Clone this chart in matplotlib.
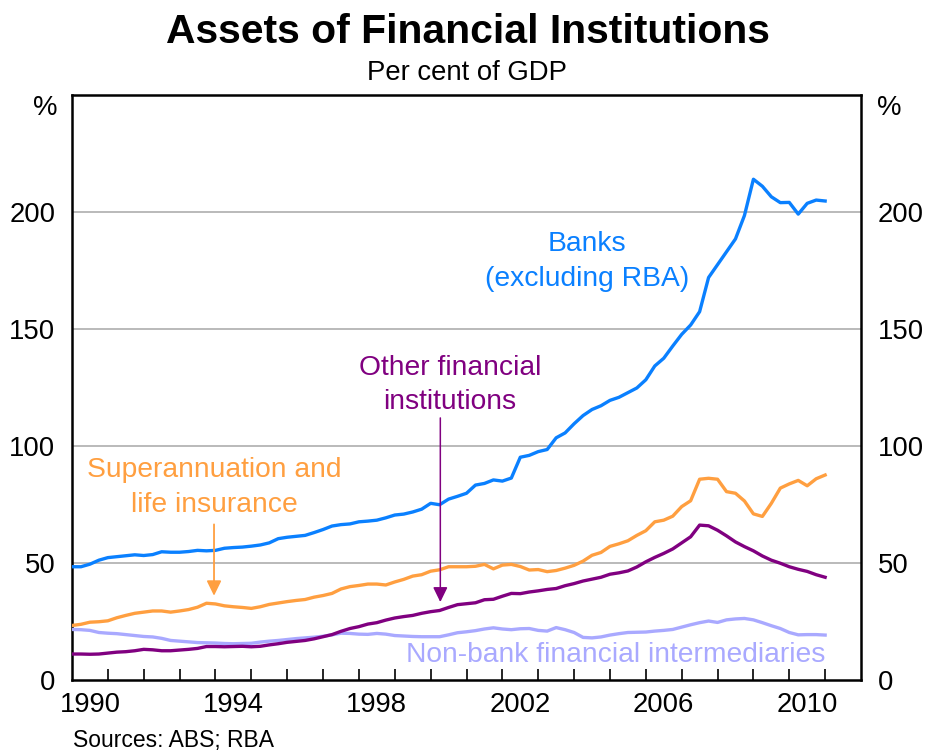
import numpy as np
import matplotlib
matplotlib.use("Agg")
import matplotlib.pyplot as plt

plt.rcParams['font.family'] = ['Liberation Sans', 'DejaVu Sans']

# Quarterly observations, per cent of GDP, starting 1990 Q1
start_year = 1990.0
banks = [48.4, 48.4, 49.5, 51.2, 52.3, 52.7, 53.1, 53.5, 53.2, 53.6,
         54.8, 54.6, 54.6, 54.9, 55.4, 55.2, 55.4, 56.3, 56.6, 56.8,
         57.2, 57.7, 58.6, 60.4, 61.0, 61.4, 61.8, 63.0, 64.3, 65.8,
         66.4, 66.7, 67.6, 67.9, 68.3, 69.3, 70.5, 70.9, 71.8, 73.0,
         75.5, 74.9, 77.3, 78.5, 79.8, 83.3, 84.0, 85.5, 85.0, 86.3,
         95.2, 96.0, 97.6, 98.5, 103.5, 105.6, 109.5, 113.0, 115.6, 117.2,
         119.5, 120.8, 122.8, 124.8, 128.3, 134.2, 137.5, 142.7, 147.7, 151.7,
         157.4, 172.0, 177.5, 183.0, 188.5, 198.5, 214.0, 211.0, 206.5, 204.0,
         204.1, 199.1, 203.7, 205.1, 204.7]
super_life = [23.3, 23.8, 24.7, 24.9, 25.3, 26.6, 27.6, 28.5, 29.0, 29.5,
              29.5, 29.0, 29.5, 30.1, 31.1, 32.8, 32.5, 31.7, 31.3, 31.0,
              30.6, 31.3, 32.3, 32.9, 33.5, 34.0, 34.4, 35.4, 36.1, 37.0,
              38.9, 39.9, 40.4, 41.0, 41.0, 40.6, 41.9, 43.0, 44.4, 45.0,
              46.5, 47.1, 48.4, 48.4, 48.4, 48.6, 49.4, 47.5, 49.1, 49.4,
              48.5, 47.0, 47.2, 46.3, 46.8, 47.8, 49.0, 50.8, 53.3, 54.5,
              57.1, 58.2, 59.5, 61.8, 63.8, 67.6, 68.3, 70.0, 74.1, 76.6,
              85.8, 86.2, 85.8, 80.5, 79.8, 76.5, 71.0, 69.9, 75.5, 82.0,
              83.8, 85.3, 83.0, 86.0, 87.6]
other_fi = [11.1, 11.1, 11.0, 11.1, 11.5, 11.9, 12.1, 12.5, 13.1, 12.9,
            12.5, 12.5, 12.8, 13.1, 13.5, 14.3, 14.3, 14.2, 14.3, 14.4,
            14.2, 14.4, 15.0, 15.5, 16.1, 16.5, 16.9, 17.6, 18.5, 19.4,
            20.8, 22.0, 22.8, 23.9, 24.5, 25.6, 26.5, 27.1, 27.6, 28.5,
            29.2, 29.7, 31.0, 32.2, 32.6, 33.0, 34.3, 34.5, 35.8, 37.0,
            36.9, 37.6, 38.1, 38.7, 39.1, 40.3, 41.2, 42.3, 43.1, 43.9,
            45.2, 45.8, 46.6, 48.3, 50.5, 52.4, 54.1, 56.0, 58.6, 61.2,
            66.2, 65.9, 64.0, 61.6, 59.0, 57.0, 55.2, 53.0, 51.2, 49.9,
            48.4, 47.3, 46.4, 45.0, 43.9]
non_bank = [21.6, 21.5, 21.2, 20.3, 20.0, 19.8, 19.4, 19.0, 18.6, 18.4,
            17.8, 16.9, 16.6, 16.3, 16.0, 15.9, 15.8, 15.6, 15.5, 15.6,
            15.7, 16.2, 16.6, 16.9, 17.3, 17.7, 18.0, 18.3, 18.7, 19.3,
            20.0, 19.9, 19.6, 19.5, 19.9, 19.6, 19.0, 18.8, 18.6, 18.5,
            18.5, 18.5, 19.3, 20.2, 20.6, 21.1, 21.8, 22.3, 21.8, 21.5,
            21.9, 22.0, 21.2, 20.9, 22.4, 21.5, 20.3, 18.2, 18.0, 18.4,
            19.2, 19.8, 20.3, 20.4, 20.5, 20.9, 21.2, 21.6, 22.6, 23.6,
            24.5, 25.2, 24.6, 25.7, 26.1, 26.3, 25.7, 24.5, 23.2, 22.0,
            20.3, 19.3, 19.4, 19.4, 19.2]

year_labels = ['1990', '1994', '1998', '2002', '2006', '2010']
y_ticks = [0, 50, 100, 150, 200]

c_banks = '#0A80FF'
c_super = '#FF9F40'
c_other = '#800080'
c_nonbank = '#A9A9FF'

t = start_year + 0.25 * np.arange(len(banks))

W, H = 927, 753
fig = plt.figure(figsize=(W / 100, H / 100), dpi=100)
ax = fig.add_axes([72 / W, 1 - 680 / H, (861 - 72) / W, (680 - 95) / H])

lw = 2.4
ax.plot(t, non_bank, color=c_nonbank, lw=lw, zorder=3, solid_joinstyle='round')
ax.plot(t, other_fi, color=c_other, lw=lw, zorder=4, solid_joinstyle='round')
ax.plot(t, super_life, color=c_super, lw=lw, zorder=4, solid_joinstyle='round')
ax.plot(t, banks, color=c_banks, lw=lw, zorder=5, solid_joinstyle='round')

ax.set_xlim(1990, 2012)
ax.set_ylim(0, 250)

for v in y_ticks[1:]:
    ax.axhline(v, color='#b4b4b4', lw=1.3, zorder=1)

# x ticks: year boundaries (marks), labels at mid-year
ax.set_xticks(np.arange(1991, 2012), labels=[''] * 21)
ax.tick_params(axis='x', which='major', direction='in', length=8, width=1.2,
               colors='black')
ax.set_xticks([int(l) + 0.5 for l in year_labels], labels=year_labels, minor=True)
ax.tick_params(axis='x', which='minor', length=0, pad=9, labelsize=19.8)

ax.set_yticks(y_ticks, labels=[str(v) for v in y_ticks])
ax.tick_params(axis='y', which='both', length=0, labelsize=19.8, pad=12,
               left=True, right=True, labelleft=True, labelright=True)

for s in ax.spines.values():
    s.set_linewidth(1.8)
    s.set_color('black')

# % labels
fig.text(57 / W, 1 - 108 / H, '%', ha='right', va='center', fontsize=19.8)
fig.text(877 / W, 1 - 108 / H, '%', ha='left', va='center', fontsize=19.8)

# Titles
fig.text(468 / W, 1 - 32 / H, 'Assets of Financial Institutions', ha='center',
         va='center', fontsize=29.4, fontweight='bold')
fig.text(467 / W, 1 - 73 / H, 'Per cent of GDP', ha='center', va='center',
         fontsize=19.8)
fig.text(73 / W, 1 / H, 'Sources: ABS; RBA', ha='left', va='bottom',
         fontsize=16.5)

# Series labels
ls = 1.42
ax.text(2004.37, 178.8, 'Banks\n(excluding RBA)', color=c_banks, ha='center',
        va='center', fontsize=20.3, linespacing=ls)
ax.text(2000.54, 126.1, 'Other financial\ninstitutions', color=c_other,
        ha='center', va='center', fontsize=20.3, linespacing=ls)
ax.text(1993.96, 82.3, 'Superannuation and\nlife insurance', color=c_super,
        ha='center', va='center', fontsize=20.3, linespacing=ls)
ax.text(2005.15, 10.7, 'Non-bank financial intermediaries', color=c_nonbank,
        ha='center', va='center', fontsize=20.3)

# Arrows
astyle = '-|>,head_length=0.45,head_width=0.22'
ax.annotate('', xy=(1993.96, 36.0), xytext=(1993.96, 66.5),
            arrowprops=dict(arrowstyle=astyle, color=c_super, lw=1.3,
                            mutation_scale=20, shrinkA=0, shrinkB=0), zorder=6)
ax.annotate('', xy=(2000.27, 33.3), xytext=(2000.27, 112.0),
            arrowprops=dict(arrowstyle=astyle, color=c_other, lw=1.1,
                            mutation_scale=20, shrinkA=0, shrinkB=0), zorder=6)

fig.savefig('out.png', dpi=100)
